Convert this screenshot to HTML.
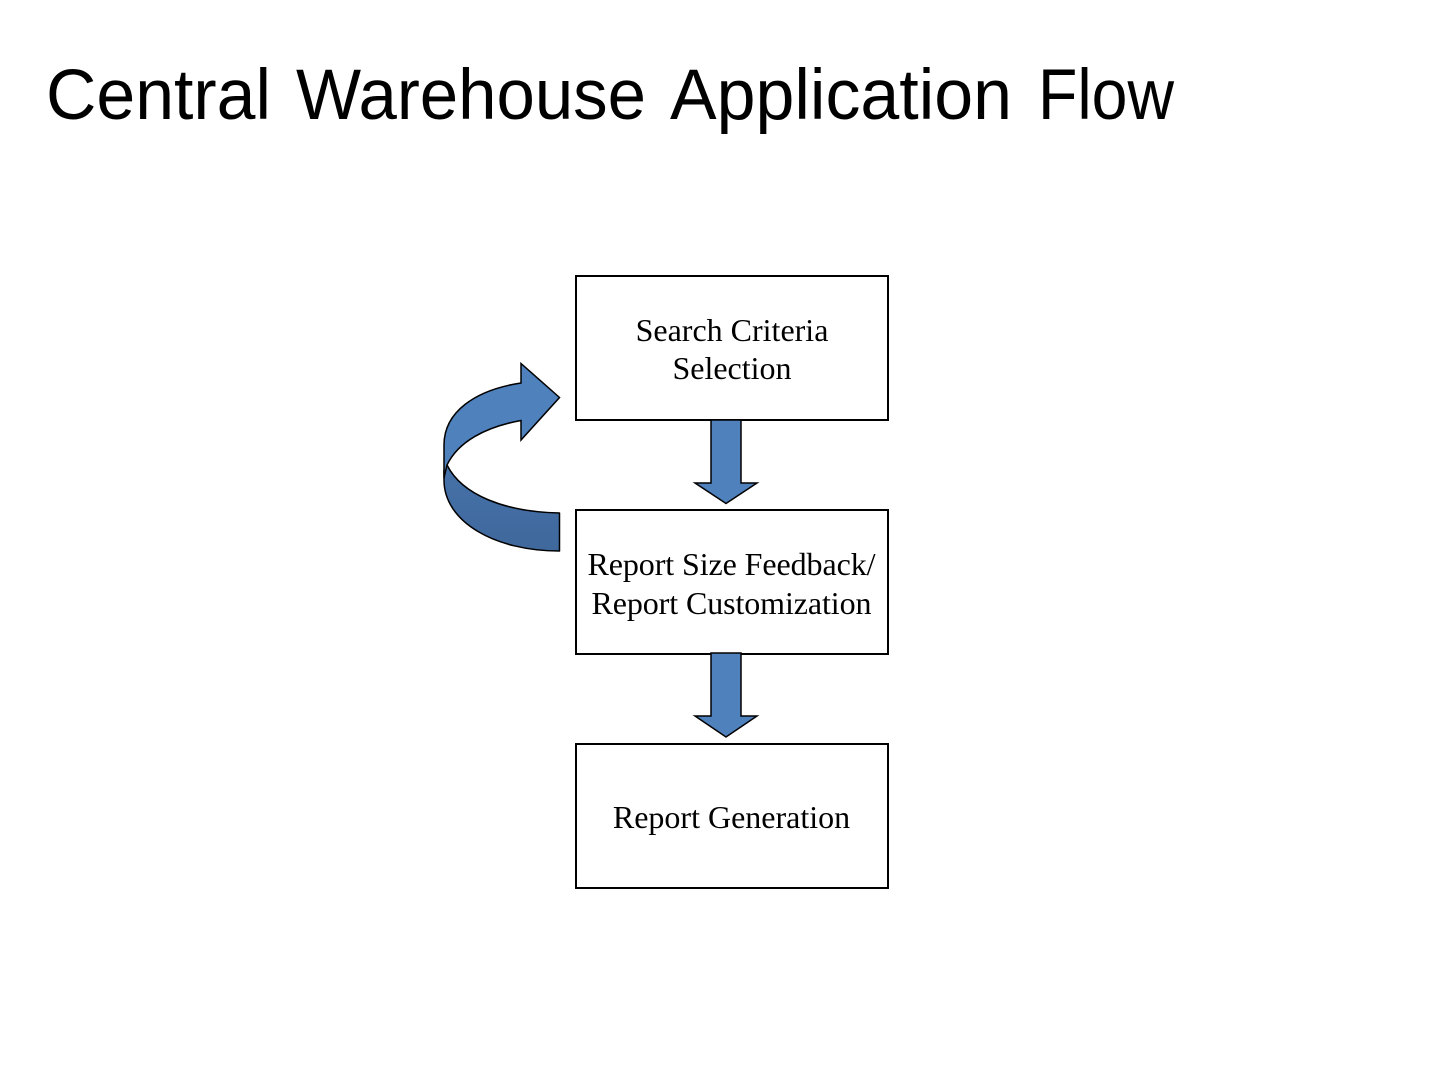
<!DOCTYPE html>
<html>
<head>
<meta charset="utf-8">
<style>
html,body{margin:0;padding:0;background:#fff;width:1440px;height:1080px;overflow:hidden}
svg{display:block}
.b{font-family:"Liberation Serif",serif;font-size:32px;fill:#000;text-anchor:middle}
.t{font-family:"Liberation Sans",sans-serif;font-size:71px;fill:#000}
</style>
</head>
<body>
<svg width="1440" height="1080" viewBox="0 0 1440 1080" xmlns="http://www.w3.org/2000/svg">
<defs>
<linearGradient id="g" x1="0" y1="0" x2="0" y2="1"><stop offset="0" stop-color="#4672a9"/><stop offset="1" stop-color="#3f689c"/></linearGradient>
</defs>
<rect width="1440" height="1080" fill="#fff"/>
<text class="t" x="46" y="119" textLength="225" lengthAdjust="spacingAndGlyphs">Central</text>
<text class="t" x="296" y="119" textLength="350" lengthAdjust="spacingAndGlyphs">Warehouse</text>
<text class="t" x="670" y="119" textLength="342" lengthAdjust="spacingAndGlyphs">Application</text>
<text class="t" x="1038" y="119" textLength="136" lengthAdjust="spacingAndGlyphs">Flow</text>

<rect x="576" y="276" width="312" height="144" fill="#fff" stroke="#000" stroke-width="2"/>
<rect x="576" y="510" width="312" height="144" fill="#fff" stroke="#000" stroke-width="2"/>
<rect x="576" y="744" width="312" height="144" fill="#fff" stroke="#000" stroke-width="2"/>

<text class="b" x="732" y="341">Search Criteria</text>
<text class="b" x="732" y="379">Selection</text>
<text class="b" x="731.500" y="575" textLength="288">Report Size Feedback/</text>
<text class="b" x="731.500" y="614" textLength="280">Report Customization</text>
<text class="b" x="731.500" y="828">Report Generation</text>

<path d="M711 420H741V483H757L726 503.500L695 483H711Z" fill="#4f81bd" stroke="#000" stroke-width="1.500" stroke-linejoin="miter"/>
<path d="M711 653H741V716H757L726 737L695 716H711Z" fill="#4f81bd" stroke="#000" stroke-width="1.500" stroke-linejoin="miter"/>

<path d="M447 465C462 495 505 512 559.500 513V551C495 551 444 522 444 480V470Z" fill="url(#g)" stroke="#000" stroke-width="1.500" stroke-linejoin="round"/>
<path d="M521 383V363.500L559.500 397.500L521 440V420.500C485 427 458 442 447 465L444 478V445C444 412 475 390 521 383Z" fill="#4f81bd" stroke="#000" stroke-width="1.500" stroke-linejoin="miter"/>
</svg>
</body>
</html>
